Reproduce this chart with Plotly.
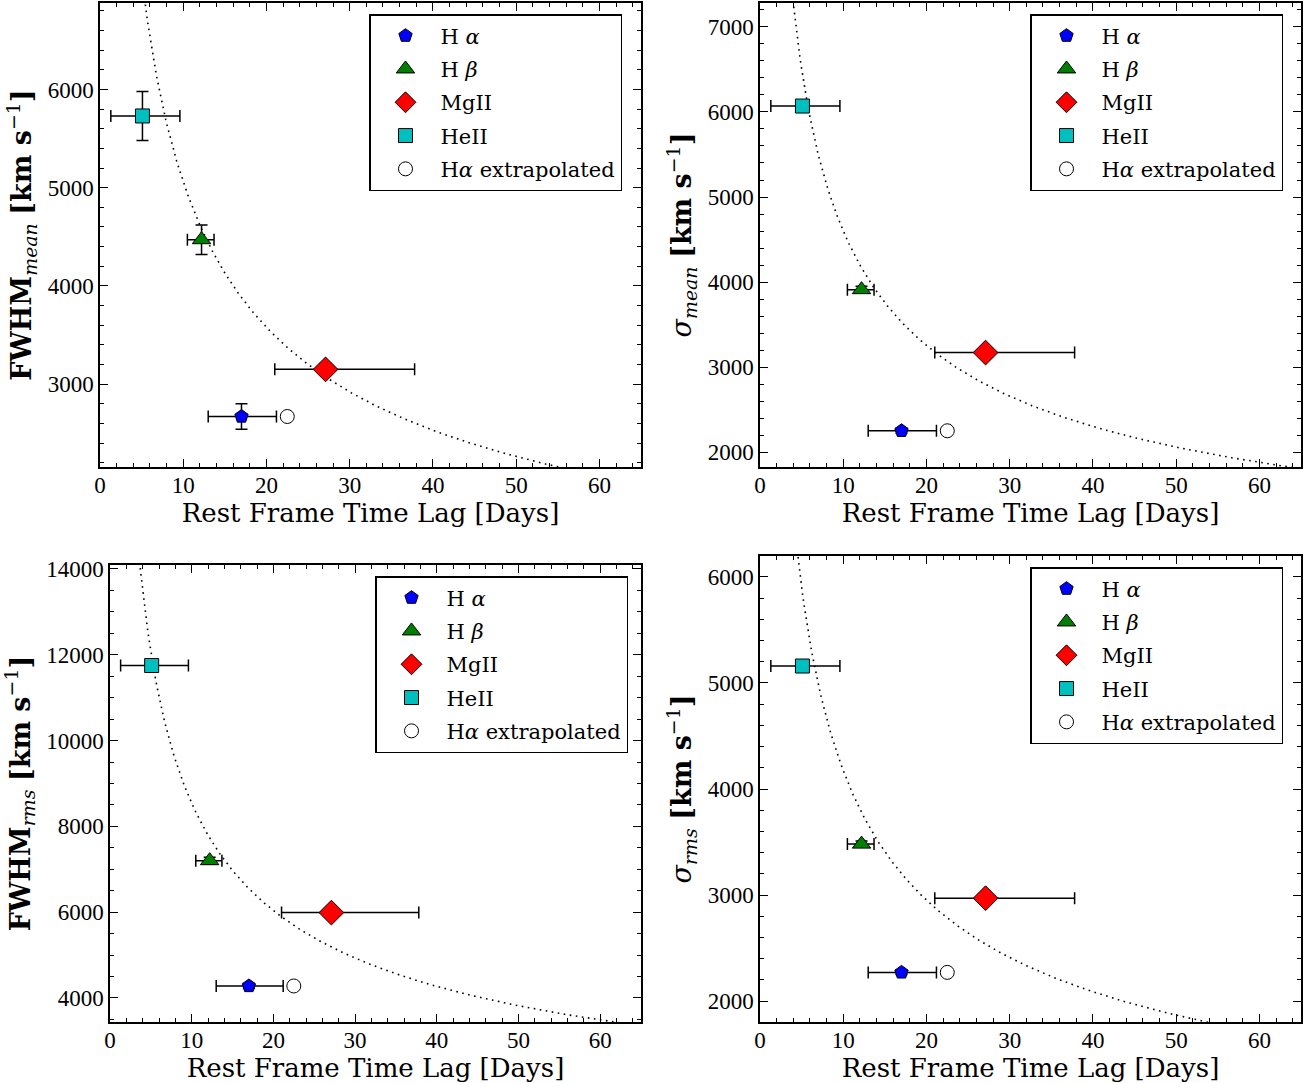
import numpy as np
import plotly.graph_objects as go

W, H = 1309, 1083

# ---------------- data ----------------
lines = ["Hα", "Hβ", "MgII", "HeII"]
legend_names = ["H <i>α</i>", "H <i>β</i>", "MgII", "HeII", "H<i>α</i> extrapolated"]

# rest-frame lags (days) and asymmetric errors
lag = [17.0, 12.2, 27.1, 5.1]
lag_err_minus = [4.0, 1.7, 6.1, 3.8]
lag_err_plus = [4.2, 1.5, 10.7, 4.5]
lag_extrap = 22.5

# panel 1: FWHM mean
fwhm_mean = [2670, 4470, 3150, 5730]
fwhm_mean_err = [130, 150, 60, 250]
# panel 2: sigma mean
sig_mean = [2250, 3910, 3170, 6070]
sig_mean_err = [30, 40, 40, 40]
# panel 3: FWHM rms
fwhm_rms = [4280, 7200, 5990, 11750]
fwhm_rms_err = [60, 80, 80, 100]
# panel 4: sigma rms
sig_rms = [2270, 3480, 2970, 5160]
sig_rms_err = [20, 30, 30, 40]

# virial-relation normalisations (V = K * tau^-1/2)
K_fit = [16000, 14550, 27000, 13200]

# axis ranges
y_ranges = [[2156, 6880], [1824, 7282], [3440, 14093], [1802, 6198]]
y_dticks = [1000, 1000, 2000, 1000]
y_minor = [200, 200, 500, 200]
y_titles = [
    "<b>FWHM</b><sub><i>mean</i></sub> <b>[km s</b><sup>−1</sup><b>]</b>",
    "<i>σ</i><sub><i>mean</i></sub> <b>[km s</b><sup>−1</sup><b>]</b>",
    "<b>FWHM</b><sub><i>rms</i></sub> <b>[km s</b><sup>−1</sup><b>]</b>",
    "<i>σ</i><sub><i>rms</i></sub> <b>[km s</b><sup>−1</sup><b>]</b>",
]
x_title = "Rest Frame Time Lag [Days]"

colors = ["#0000FF", "#008000", "#FF0000", "#00BFBF"]
symbols = ["pentagon", "triangle-up", "diamond", "square"]
sizes = [14, 16, 19, 14]

# pixel boxes of the four plot areas: (x0, x1, ytop, ybottom)
boxes = [(100, 641, 3, 467), (760, 1301, 3, 467), (110, 641, 565, 1022), (760, 1301, 556, 1022)]
legend_pos = [(369, 14), (1030, 14), (375, 576), (1030, 567)]

panel_vals = [fwhm_mean, sig_mean, fwhm_rms, sig_rms]
panel_errs = [fwhm_mean_err, sig_mean_err, fwhm_rms_err, sig_rms_err]

fig = go.Figure()
SERIF = "Liberation Serif, Times New Roman, serif"
SERIF_T = "DejaVu Serif, Liberation Serif, serif"

curve_x = np.linspace(0.5, 66, 400)

for p in range(4):
    ax = "" if p == 0 else str(p + 1)
    xref, yref = "x" + ax, "y" + ax
    leg = "legend" if p == 0 else "legend" + str(p + 1)
    # dotted fit curve
    fig.add_trace(go.Scatter(x=curve_x, y=K_fit[p] / np.sqrt(curve_x), mode="lines",
                             line=dict(color="black", dash="1.6px,4.5px", width=1.6),
                             showlegend=False, xaxis=xref, yaxis=yref, hoverinfo="skip"))
    vals, errs = panel_vals[p], panel_errs[p]
    for i in range(4):
        fig.add_trace(go.Scatter(
            x=[lag[i]], y=[vals[i]], mode="markers", name=legend_names[i],
            marker=dict(symbol=symbols[i], size=sizes[i], color=colors[i],
                        line=dict(color="black", width=1)),
            error_x=dict(type="data", symmetric=False, array=[lag_err_plus[i]],
                         arrayminus=[lag_err_minus[i]], color="black", thickness=1.5, width=6),
            error_y=dict(type="data", array=[errs[i]], color="black", thickness=1.5, width=6),
            xaxis=xref, yaxis=yref, legend=leg, legendgroup=f"g{p}_{i}"))
    fig.add_trace(go.Scatter(
        x=[lag_extrap], y=[vals[0]], mode="markers", name=legend_names[4],
        marker=dict(symbol="circle", size=14, color="white", line=dict(color="black", width=1)),
        xaxis=xref, yaxis=yref, legend=leg, legendgroup=f"g{p}_4"))

    x0, x1, yt, yb = boxes[p]
    axis_common = dict(showline=True, linecolor="black", linewidth=1.5, mirror="allticks",
                       ticks="inside", ticklen=8, tickwidth=1, tickcolor="black",
                       showgrid=False, zeroline=False, automargin=False,
                       tickfont=dict(family=SERIF, size=23, color="black"))
    fig.update_layout(**{
        "xaxis" + ax: dict(domain=[x0 / W, x1 / W], range=[0, 65], tick0=0, dtick=10,
                           anchor=yref, ticklabelstandoff=-3,
                           minor=dict(ticks="inside", dtick=2, ticklen=4, tickcolor="black"),
                           title=dict(text=x_title, font=dict(family=SERIF_T, size=26, color="black"),
                                      standoff=0),
                           **axis_common),
        "yaxis" + ax: dict(domain=[1 - yb / H, 1 - yt / H], range=y_ranges[p], dtick=y_dticks[p],
                           anchor=xref, tickformat="d",
                           minor=dict(ticks="inside", dtick=y_minor[p], ticklen=4, tickcolor="black"),
                           title=dict(text=y_titles[p], font=dict(family=SERIF_T, size=27, color="black"),
                                      standoff=8),
                           **axis_common),
    })
    lx, ly = legend_pos[p]
    fig.update_layout(**{leg: dict(x=lx / W, y=1 - ly / H, xanchor="left", yanchor="top",
                                   bgcolor="white", bordercolor="black", borderwidth=1.5,
                                   font=dict(family=SERIF_T, size=21, color="black"),
                                   tracegroupgap=3, itemwidth=60)})

fig.update_layout(width=W, height=H, margin=dict(l=0, r=0, t=0, b=0),
                  paper_bgcolor="white", plot_bgcolor="white")

fig.write_html("out.html", config={"displayModeBar": False},
               post_script="document.body.style.margin='0px';")
